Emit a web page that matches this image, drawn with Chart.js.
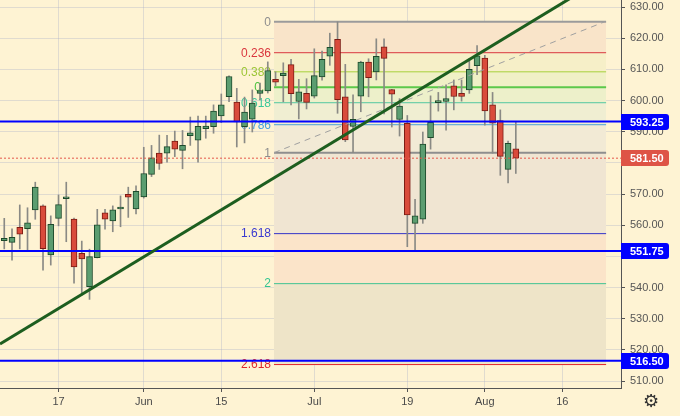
<!DOCTYPE html>
<html>
<head>
<meta charset="utf-8">
<script src="https://cdn.jsdelivr.net/npm/chart.js@4.4.1/dist/chart.umd.min.js"></script>
<style>
  html, body { margin: 0; padding: 0; background: #fef3d3; }
  #wrap { width: 680px; height: 416px; position: relative; }
</style>
</head>
<body>
<div id="wrap"><canvas id="grafico"></canvas></div>
<script>
// daily bars, May 6 .. Aug 6 (weekdays), index = bar number
const opens = [555.0, 554.5, 559.3, 558.9, 564.9, 566.2, 550.5, 562.2, 568.5, 562.0,
  551.0, 540.3, 549.6, 564.0, 561.4, 565.2, 569.9, 565.2, 569.1, 576.3,
  583.1, 583.1, 587.0, 584.0, 588.7, 587.3, 591.0, 591.6, 595.1, 601.2,
  599.5, 591.6, 594.0, 602.3, 603.1, 606.8, 608.0, 611.5, 599.7, 602.3,
  601.4, 607.6, 614.2, 619.6, 601.2, 591.7, 601.4, 612.3, 609.2, 617.2,
  603.5, 593.9, 592.7, 560.6, 561.9, 588.1, 599.3, 599.7, 604.7, 602.3,
  603.4, 611.2, 613.6, 598.6, 593.6, 577.9, 584.5];
const highs = [562.2, 558.8, 566.5, 565.6, 573.8, 566.5, 563.0, 569.7, 573.8, 562.3,
  554.9, 552.3, 565.1, 565.1, 566.2, 569.4, 572.2, 572.6, 585.0, 585.6,
  588.9, 588.8, 590.2, 590.4, 594.7, 595.0, 595.0, 598.6, 602.1, 607.9,
  603.9, 601.1, 603.4, 605.6, 612.4, 609.2, 612.1, 613.2, 606.8, 607.0,
  616.6, 615.9, 621.6, 625.25, 611.6, 601.8, 612.6, 613.4, 619.8, 619.8,
  603.6, 600.6, 595.2, 568.3, 589.9, 601.5, 602.6, 605.0, 606.6, 606.6,
  613.5, 617.6, 614.5, 602.6, 597.0, 587.0, 593.2];
const lows = [552.4, 548.8, 552.4, 552.0, 561.9, 545.6, 547.2, 559.8, 554.7, 541.4,
  537.6, 536.2, 549.5, 558.7, 557.9, 559.5, 562.5, 563.6, 568.7, 575.6,
  577.9, 580.2, 582.0, 578.1, 585.6, 580.2, 587.9, 589.5, 592.9, 599.6,
  585.1, 586.4, 589.9, 600.2, 602.4, 604.7, 599.6, 598.6, 594.1, 597.3,
  600.8, 606.5, 611.3, 595.9, 586.8, 583.25, 596.4, 601.2, 606.6, 595.7,
  591.5, 588.6, 553.1, 551.75, 560.6, 584.4, 596.6, 590.5, 597.0, 599.8,
  602.3, 608.3, 592.1, 583.1, 576.0, 573.6, 576.6];
const closes = [555.8, 556.1, 557.1, 560.8, 572.2, 552.5, 560.3, 566.6, 568.8, 546.6,
  549.2, 549.9, 560.1, 561.9, 564.9, 565.7, 569.0, 570.9, 576.6, 581.6,
  579.8, 585.2, 584.4, 585.6, 589.6, 591.7, 591.8, 596.6, 598.6, 607.7,
  593.1, 596.3, 599.2, 603.2, 609.6, 605.9, 608.8, 602.2, 602.8, 599.4,
  608.0, 613.2, 617.1, 600.3, 587.4, 594.0, 612.3, 607.3, 614.2, 613.5,
  602.0, 598.2, 563.3, 563.0, 586.0, 593.0, 599.6, 600.6, 601.3, 601.3,
  610.0, 614.3, 596.7, 592.7, 582.1, 586.3, 581.5];

const tickIndex = [7, 18, 28, 40, 52, 62, 72];
const tickLabels = ['17', 'Jun', '15', 'Jul', '19', 'Aug', '16'];
const priceTicks = [510, 520, 530, 540, 550, 560, 570, 580, 590, 600, 610, 620, 630];

const blueLevels = [593.25, 551.75, 516.50];
const lastPrice = 581.50;

const fibHigh = 625.25;
const fibLow = 583.25;
const fibLevels = [0, 0.236, 0.382, 0.5, 0.618, 0.786, 1, 1.618, 2, 2.618];
const fibLabels = ['0', '0.236', '0.382', '0.5', '0.618', '0.786', '1', '1.618', '2', '2.618'];
const fibStart = 34.8;
const fibEnd = 77.65;

const trendLine = [{ x: -0.55, y: 521.9 }, { x: 80, y: 643.3 }];

const xMin = -0.55;
const xMax = 79.57;

const fibLineColors = ['#9b9b9b', '#d9363e', '#a6cf3a', '#5cc94a', '#52c7a0', '#4a9fd6',
  '#8e8e8e', '#3434c8', '#3fc392', '#e0262e'];
const fibTextColors = ['#8e8e8e', '#d9363e', '#9cc534', '#4cc43e', '#3cc79a', '#3f9fe0',
  '#8e8e8e', '#3a3ad0', '#33c690', '#e0262e'];
const fibZoneColors = [null, '#f9e4c9', '#f6efc8', '#f0f0c6', '#edf0ca', '#f0eed2',
  '#f2ead5', '#f0e5d2', '#fbe4c9', '#eee4c8'];

function fibPrice(level) {
  return fibHigh - level * (fibHigh - fibLow);
}

function candleDatasets() {
  const corpo = [];
  const pavio = [];
  const fundo = [];
  const borda = [];
  opens.forEach((o, i) => {
    const c = closes[i];
    pavio.push({ x: i, y: [lows[i], highs[i]] });
    corpo.push({ x: i, y: [o, c] });
    const alta = c >= o;
    fundo.push(alta ? '#5b9d70' : '#d94b3b');
    borda.push(alta ? '#1d4a2b' : '#7c1c14');
  });
  return [
    {
      type: 'bar', data: pavio, backgroundColor: '#8a8a85', barThickness: 1,
      grouped: false, order: 5,
    },
    {
      type: 'bar', data: corpo, backgroundColor: fundo, borderColor: borda,
      borderWidth: 1, borderSkipped: false, barThickness: 6, minBarLength: 2,
      grouped: false, order: 4,
    },
  ];
}

function fibDatasets() {
  return fibLevels.map((lv, i) => ({
    type: 'line',
    data: [{ x: fibStart, y: fibPrice(lv) }, { x: fibEnd, y: fibPrice(lv) }],
    borderColor: fibLineColors[i],
    borderWidth: lv === 0.5 || lv === 0 || lv === 1 ? 2 : 1,
    backgroundColor: fibZoneColors[i] || 'transparent',
    fill: i === 0 ? false : '-1',
    pointRadius: 0,
    order: 6,
  }));
}

function lineDatasets() {
  const sets = blueLevels.map((v) => ({
    type: 'line',
    data: [{ x: xMin, y: v }, { x: xMax, y: v }],
    borderColor: '#0000ff', borderWidth: 2, pointRadius: 0, fill: false, order: 1,
  }));
  sets.push({
    type: 'line',
    data: [{ x: xMin, y: lastPrice }, { x: xMax, y: lastPrice }],
    borderColor: '#e4584a', borderWidth: 1, borderDash: [2, 2], pointRadius: 0,
    fill: false, order: 3,
  });
  sets.push({
    type: 'line',
    data: [{ x: fibStart, y: fibLow }, { x: fibEnd - 0.2, y: fibHigh }],
    borderColor: '#a0a0a0', borderWidth: 1, borderDash: [6, 5], pointRadius: 0,
    fill: false, order: 3,
  });
  sets.push({
    type: 'line', data: trendLine, borderColor: '#1d5e1f', borderWidth: 3,
    pointRadius: 0, fill: false, order: 0,
  });
  return sets;
}

const fibText = {
  id: 'fibText',
  beforeDatasetsDraw(chart) {
    const { ctx, scales } = chart;
    const px = scales.x.getPixelForValue(fibStart) - 3;
    ctx.save();
    ctx.font = '12px "Liberation Sans", Arial, sans-serif';
    ctx.textAlign = 'right';
    ctx.textBaseline = 'middle';
    fibLevels.forEach((lv, i) => {
      ctx.fillStyle = fibTextColors[i];
      ctx.fillText(fibLabels[i], px, scales.y.getPixelForValue(fibPrice(lv)) + 0.5);
    });
    ctx.restore();
  },
};

const priceTags = {
  id: 'priceTags',
  afterDraw(chart) {
    const { ctx, scales } = chart;
    const tags = blueLevels.map((v) => [v, '#0000ff']);
    tags.push([lastPrice, '#de5446']);
    ctx.save();
    tags.forEach(([v, cor]) => {
      const py = Math.round(scales.y.getPixelForValue(v));
      ctx.fillStyle = cor;
      ctx.beginPath();
      ctx.roundRect(621, py - 8, 48, 16, [0, 3, 3, 0]);
      ctx.fill();
      ctx.fillStyle = '#ffffff';
      ctx.font = 'bold 11px "Liberation Sans", Arial, sans-serif';
      ctx.textAlign = 'left';
      ctx.textBaseline = 'middle';
      ctx.fillText(v.toFixed(2), 630, py + 0.5);
    });
    ctx.fillStyle = '#333';
    ctx.font = '18px "DejaVu Sans"';
    ctx.textAlign = 'center';
    ctx.textBaseline = 'middle';
    ctx.fillText('\u2699', 651, 402);
    ctx.restore();
  },
};

const gridDash = {
  color: 'rgba(170, 175, 200, 0.35)',
  borderDash: [4, 4],
  tickColor: '#555',
  tickLength: 4,
  tickBorderDash: [],
};

new Chart(document.getElementById('grafico').getContext('2d'), {
  type: 'bar',
  data: {
    datasets: [...fibDatasets(), ...candleDatasets(), ...lineDatasets()],
  },
  options: {
    responsive: true,
    maintainAspectRatio: false,
    animation: false,
    layout: { padding: 0 },
    plugins: {
      legend: { display: false },
      tooltip: { enabled: false },
      filler: { drawTime: 'beforeDatasetsDraw' },
    },
    scales: {
      x: {
        type: 'linear',
        min: xMin,
        max: xMax,
        offset: false,
        grid: { ...gridDash, offset: false },
        border: { display: true, color: '#555', width: 1 },
        afterBuildTicks: (scale) => {
          scale.ticks = tickIndex.map((v) => ({ value: v }));
        },
        afterFit: (scale) => {
          scale.height = 28;
          scale.paddingLeft = 0;
          scale.paddingRight = 0;
        },
        ticks: {
          autoSkip: false,
          maxRotation: 0,
          padding: 3,
          color: '#4a4a4a',
          font: { family: '"Liberation Sans", Arial, sans-serif', size: 11 },
          callback: (v) => tickLabels[tickIndex.indexOf(v)],
        },
      },
      y: {
        position: 'right',
        min: 507.77,
        max: 632.25,
        beginAtZero: false,
        grid: gridDash,
        border: { display: true, color: '#555', width: 1 },
        afterBuildTicks: (scale) => {
          scale.ticks = priceTicks.map((v) => ({ value: v }));
        },
        afterFit: (scale) => {
          scale.width = 59;
          scale.paddingTop = 0;
          scale.paddingBottom = 0;
        },
        ticks: {
          padding: 5,
          color: '#555',
          font: { family: '"Liberation Sans", Arial, sans-serif', size: 11 },
          callback: (v) => v.toFixed(2),
        },
      },
    },
  },
  plugins: [fibText, priceTags],
});
</script>
</body>
</html>
